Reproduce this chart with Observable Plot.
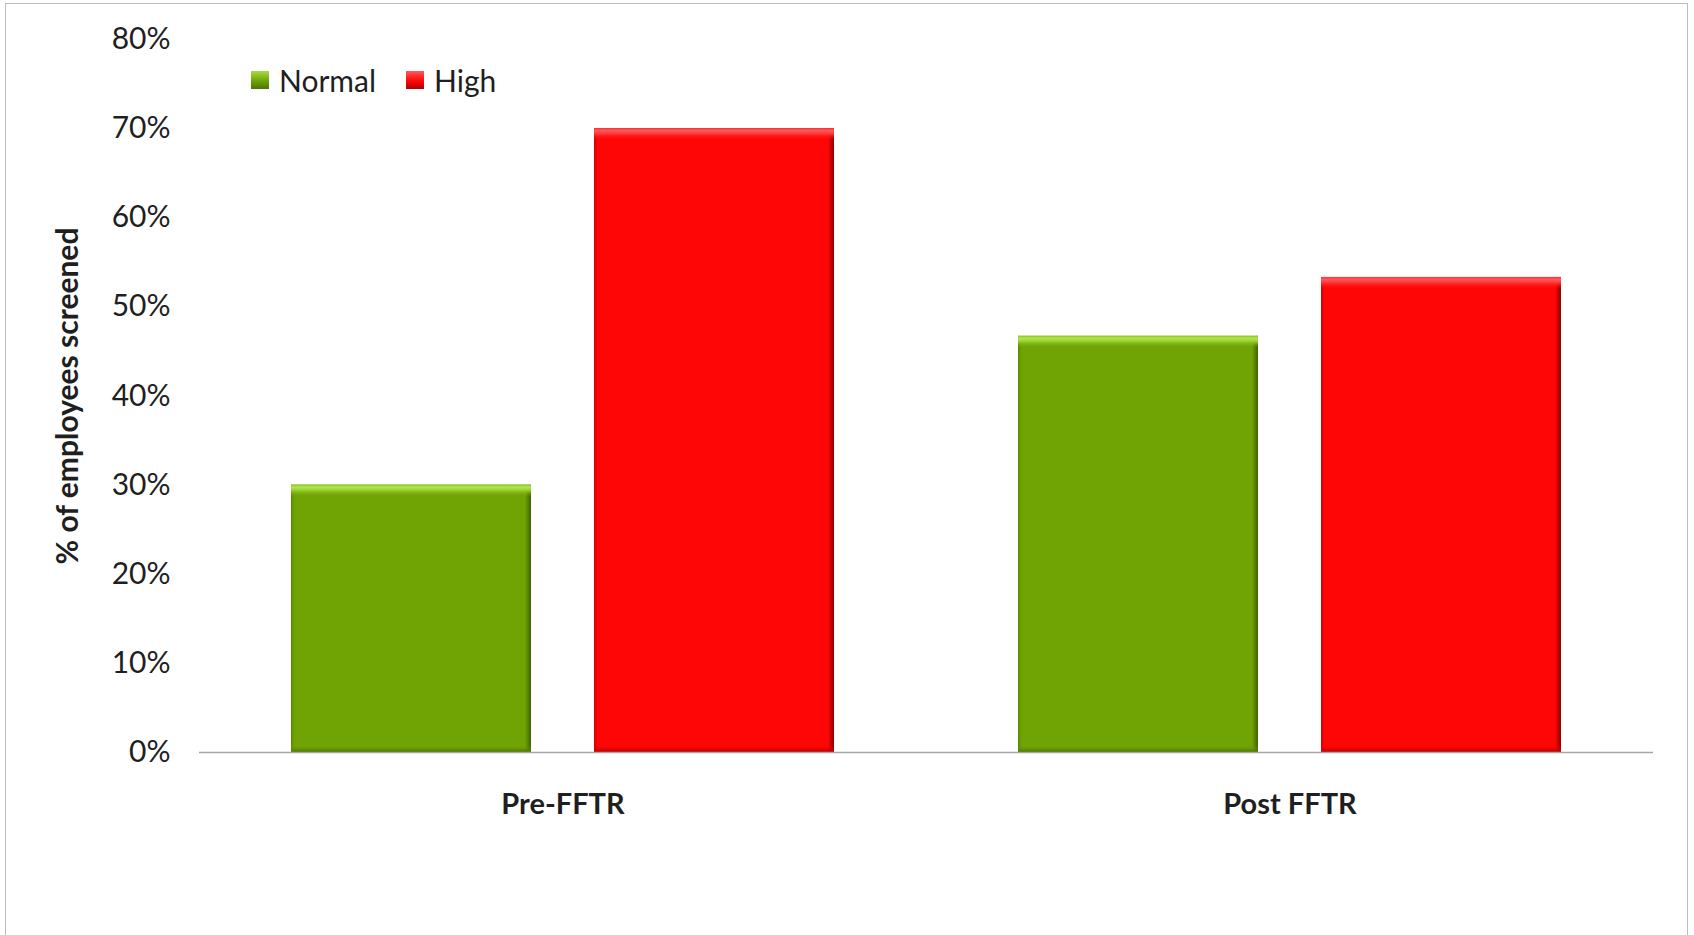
<!DOCTYPE html>
<html><head><meta charset="utf-8">
<script src="https://cdn.jsdelivr.net/npm/d3@7"></script>
<script src="https://cdn.jsdelivr.net/npm/@observablehq/plot@0.6"></script>
<style>
html,body{margin:0;padding:0;background:#fff;overflow:hidden;}
#wrap{position:relative;width:1694px;height:935px;font-family:Lato,"Open Sans",sans-serif;}
#border{position:absolute;left:5px;top:3px;width:1683px;height:980px;border:1px solid #bdbdbd;box-sizing:border-box;pointer-events:none;}
#legend{position:absolute;left:251px;top:62px;display:flex;align-items:center;font-size:30px;color:#1f1f1f;}
#legend .item{display:flex;align-items:center;margin-right:30px;}
#legend .sw{width:18px;height:18px;margin-right:10px;box-sizing:border-box;}
g[aria-label="y-axis label"] text{font-weight:bold;}
</style>
</head><body>
<div id="wrap"><div id="border"></div></div>
<script>
const groups = ["Pre-FFTR", "Post FFTR"];
const seriesNames = ["Normal", "High"];
const normalValues = [30, 46.7];
const highValues = [70, 53.3];
const yTicks = [0, 10, 20, 30, 40, 50, 60, 70, 80];
const seriesColors = ["#70a404", "#ff0606"];

const data = groups.flatMap((g, i) => [
  {group: g, series: seriesNames[0], value: normalValues[i]},
  {group: g, series: seriesNames[1], value: highValues[i]}
]);
const dN = data.filter(d => d.series === "Normal");
const dH = data.filter(d => d.series === "High");

const common = {fx: "group", x: "series"};
const chart = Plot.plot({
  width: 1694, height: 935,
  marginLeft: 199, marginRight: 41, marginTop: 39, marginBottom: 183,
  style: {fontFamily: "Lato, 'Open Sans', sans-serif", color: "#1f1f1f", background: "transparent"},
  fx: {domain: groups, padding: 0, label: null},
  x: {domain: seriesNames, paddingInner: 0.208, paddingOuter: 0.30, axis: null},
  y: {domain: [0, 80], label: "% of employees screened"},
  marks: [
    Plot.barY(dN, {...common, y: "value", fill: "url(#mainN)"}),
    Plot.barY(dH, {...common, y: "value", fill: "url(#mainH)"}),
    Plot.barY(dN, {...common, y1: "value", y2: "value", insetBottom: -12, fill: "url(#topN)"}),
    Plot.barY(dH, {...common, y1: "value", y2: "value", insetBottom: -12, fill: "url(#topH)"}),
    Plot.barY(dN, {...common, y1: 0, y2: 0, insetTop: -7, fill: "url(#botN)"}),
    Plot.barY(dH, {...common, y1: 0, y2: 0, insetTop: -7, fill: "url(#botH)"}),
    Plot.ruleY([0], {stroke: "#a6a6a6", strokeWidth: 1.5}),
    Plot.axisY({ticks: yTicks, tickSize: 0, tickPadding: 29, tickFormat: d => d + "%", fontSize: 30,
      line: true, stroke: "#a6a6a6", strokeWidth: 1.5, fill: "#1f1f1f", strokeOpacity: 1,
      label: "% of employees screened", labelAnchor: "center", labelOffset: 143, labelArrow: "none"}),
    Plot.axisFx({anchor: "bottom", tickSize: 0, tickPadding: 41, fontSize: 29, fontWeight: "bold", fill: "#1f1f1f", label: null})
  ]
});

const defs = document.createElementNS("http://www.w3.org/2000/svg", "defs");
defs.innerHTML = `
<linearGradient id="mainN" x1="0" x2="1" y1="0" y2="0">
  <stop offset="0" stop-color="#5a8a00"/><stop offset="0.015" stop-color="#70a404"/>
  <stop offset="0.975" stop-color="#70a404"/><stop offset="1" stop-color="#3d6000"/></linearGradient>
<linearGradient id="mainH" x1="0" x2="1" y1="0" y2="0">
  <stop offset="0" stop-color="#d00000"/><stop offset="0.015" stop-color="#ff0606"/>
  <stop offset="0.975" stop-color="#ff0606"/><stop offset="1" stop-color="#8a0000"/></linearGradient>
<linearGradient id="topN" x1="0" x2="0" y1="0" y2="1">
  <stop offset="0" stop-color="#8cc21c"/><stop offset="0.2" stop-color="#b0e650"/>
  <stop offset="0.45" stop-color="#9ad232"/><stop offset="1" stop-color="#70a404" stop-opacity="0"/></linearGradient>
<linearGradient id="topH" x1="0" x2="0" y1="0" y2="1">
  <stop offset="0" stop-color="#ff3030"/><stop offset="0.2" stop-color="#ff5a5a"/>
  <stop offset="0.45" stop-color="#ff3a3a"/><stop offset="1" stop-color="#ff0606" stop-opacity="0"/></linearGradient>
<linearGradient id="botN" x1="0" x2="0" y1="0" y2="1">
  <stop offset="0" stop-color="#70a404" stop-opacity="0"/><stop offset="1" stop-color="#4a7400"/></linearGradient>
<linearGradient id="botH" x1="0" x2="0" y1="0" y2="1">
  <stop offset="0" stop-color="#ff0606" stop-opacity="0"/><stop offset="1" stop-color="#b00000"/></linearGradient>`;
chart.insertBefore(defs, chart.firstChild);
chart.querySelectorAll('g[aria-label="bar"]').forEach(g => {
  const f = g.getAttribute("fill") || "";
  if (f.startsWith("url(#main")) g.style.filter = "drop-shadow(3px 3px 3px rgba(0,0,0,0.35))";
});

const wrap = document.getElementById("wrap");
wrap.insertBefore(chart, wrap.firstChild);

const legend = document.createElement("div");
legend.id = "legend";
const swatchBg = [
  "linear-gradient(#a8dc3c, #70a404 55%, #4a7400)",
  "linear-gradient(#ff5a5a, #ff0606 55%, #b00000)"
];
seriesNames.forEach((s, i) => {
  const item = document.createElement("div");
  item.className = "item";
  const sw = document.createElement("div");
  sw.className = "sw";
  sw.style.background = swatchBg[i];
  const t = document.createElement("span");
  t.textContent = s;
  item.appendChild(sw); item.appendChild(t);
  legend.appendChild(item);
});
wrap.appendChild(legend);
</script>
</body></html>
